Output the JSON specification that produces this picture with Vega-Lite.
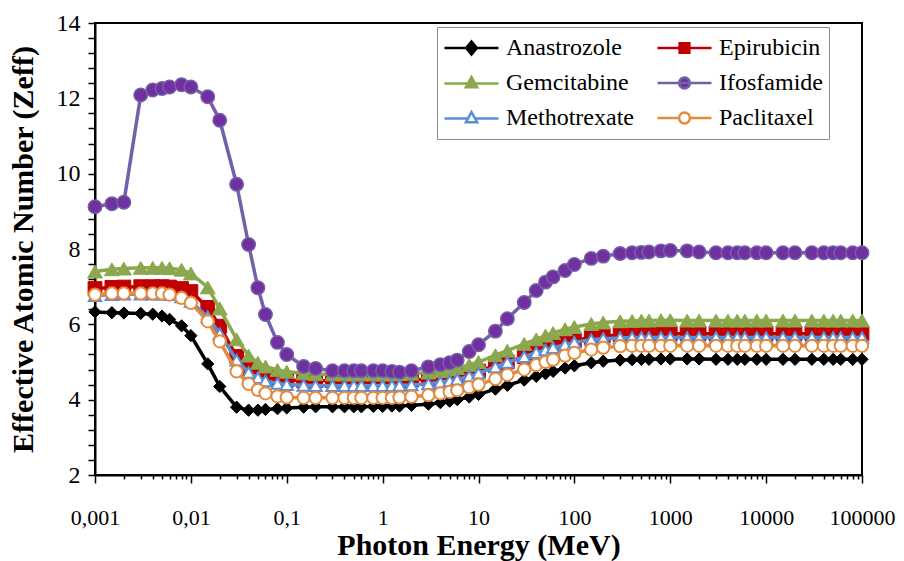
{
  "$schema": "https://vega.github.io/schema/vega-lite/v6.json",
  "autosize": {"type": "none"},
  "padding": {"left": 95, "top": 23, "right": 42, "bottom": 86},
  "width": 767,
  "height": 452,
  "background": "white",
  "data": {"values": [
    {"drug":"Anastrozole","E":0.001,"Z":6.33},{"drug":"Anastrozole","E":0.0015,"Z":6.31},{"drug":"Anastrozole","E":0.002,"Z":6.30},{"drug":"Anastrozole","E":0.003,"Z":6.29},{"drug":"Anastrozole","E":0.004,"Z":6.27},{"drug":"Anastrozole","E":0.005,"Z":6.22},{"drug":"Anastrozole","E":0.006,"Z":6.13},{"drug":"Anastrozole","E":0.008,"Z":5.96},{"drug":"Anastrozole","E":0.01,"Z":5.70},{"drug":"Anastrozole","E":0.015,"Z":4.95},
    {"drug":"Anastrozole","E":0.02,"Z":4.35},{"drug":"Anastrozole","E":0.03,"Z":3.80},{"drug":"Anastrozole","E":0.04,"Z":3.72},{"drug":"Anastrozole","E":0.05,"Z":3.72},{"drug":"Anastrozole","E":0.06,"Z":3.74},{"drug":"Anastrozole","E":0.08,"Z":3.76},{"drug":"Anastrozole","E":0.1,"Z":3.78},{"drug":"Anastrozole","E":0.15,"Z":3.80},{"drug":"Anastrozole","E":0.2,"Z":3.81},{"drug":"Anastrozole","E":0.3,"Z":3.81},
    {"drug":"Anastrozole","E":0.4,"Z":3.81},{"drug":"Anastrozole","E":0.5,"Z":3.81},{"drug":"Anastrozole","E":0.6,"Z":3.81},{"drug":"Anastrozole","E":0.8,"Z":3.82},{"drug":"Anastrozole","E":1,"Z":3.82},{"drug":"Anastrozole","E":1.25,"Z":3.83},{"drug":"Anastrozole","E":1.5,"Z":3.83},{"drug":"Anastrozole","E":2,"Z":3.85},{"drug":"Anastrozole","E":3,"Z":3.88},{"drug":"Anastrozole","E":4,"Z":3.92},
    {"drug":"Anastrozole","E":5,"Z":3.96},{"drug":"Anastrozole","E":6,"Z":4.00},{"drug":"Anastrozole","E":8,"Z":4.07},{"drug":"Anastrozole","E":10,"Z":4.14},{"drug":"Anastrozole","E":15,"Z":4.28},{"drug":"Anastrozole","E":20,"Z":4.38},{"drug":"Anastrozole","E":30,"Z":4.52},{"drug":"Anastrozole","E":40,"Z":4.62},{"drug":"Anastrozole","E":50,"Z":4.69},{"drug":"Anastrozole","E":60,"Z":4.75},
    {"drug":"Anastrozole","E":80,"Z":4.84},{"drug":"Anastrozole","E":100,"Z":4.90},{"drug":"Anastrozole","E":150,"Z":4.98},{"drug":"Anastrozole","E":200,"Z":5.02},{"drug":"Anastrozole","E":300,"Z":5.05},{"drug":"Anastrozole","E":400,"Z":5.06},{"drug":"Anastrozole","E":500,"Z":5.07},{"drug":"Anastrozole","E":600,"Z":5.07},{"drug":"Anastrozole","E":800,"Z":5.08},{"drug":"Anastrozole","E":1000,"Z":5.08},
    {"drug":"Anastrozole","E":1500,"Z":5.08},{"drug":"Anastrozole","E":2000,"Z":5.08},{"drug":"Anastrozole","E":3000,"Z":5.07},{"drug":"Anastrozole","E":4000,"Z":5.07},{"drug":"Anastrozole","E":5000,"Z":5.07},{"drug":"Anastrozole","E":6000,"Z":5.07},{"drug":"Anastrozole","E":8000,"Z":5.07},{"drug":"Anastrozole","E":10000,"Z":5.07},{"drug":"Anastrozole","E":15000,"Z":5.07},{"drug":"Anastrozole","E":20000,"Z":5.07},
    {"drug":"Anastrozole","E":30000,"Z":5.07},{"drug":"Anastrozole","E":40000,"Z":5.07},{"drug":"Anastrozole","E":50000,"Z":5.07},{"drug":"Anastrozole","E":60000,"Z":5.07},{"drug":"Anastrozole","E":80000,"Z":5.07},{"drug":"Anastrozole","E":100000,"Z":5.07},

    {"drug":"Epirubicin","E":0.001,"Z":6.95},{"drug":"Epirubicin","E":0.0015,"Z":6.98},{"drug":"Epirubicin","E":0.002,"Z":6.99},{"drug":"Epirubicin","E":0.003,"Z":7.00},{"drug":"Epirubicin","E":0.004,"Z":7.00},{"drug":"Epirubicin","E":0.005,"Z":7.00},{"drug":"Epirubicin","E":0.006,"Z":6.99},{"drug":"Epirubicin","E":0.008,"Z":6.95},{"drug":"Epirubicin","E":0.01,"Z":6.87},{"drug":"Epirubicin","E":0.015,"Z":6.45},
    {"drug":"Epirubicin","E":0.02,"Z":5.95},{"drug":"Epirubicin","E":0.03,"Z":5.15},{"drug":"Epirubicin","E":0.04,"Z":4.82},{"drug":"Epirubicin","E":0.05,"Z":4.68},{"drug":"Epirubicin","E":0.06,"Z":4.61},{"drug":"Epirubicin","E":0.08,"Z":4.55},{"drug":"Epirubicin","E":0.1,"Z":4.52},{"drug":"Epirubicin","E":0.15,"Z":4.50},{"drug":"Epirubicin","E":0.2,"Z":4.50},{"drug":"Epirubicin","E":0.3,"Z":4.50},
    {"drug":"Epirubicin","E":0.4,"Z":4.50},{"drug":"Epirubicin","E":0.5,"Z":4.50},{"drug":"Epirubicin","E":0.6,"Z":4.50},{"drug":"Epirubicin","E":0.8,"Z":4.50},{"drug":"Epirubicin","E":1,"Z":4.50},{"drug":"Epirubicin","E":1.25,"Z":4.50},{"drug":"Epirubicin","E":1.5,"Z":4.51},{"drug":"Epirubicin","E":2,"Z":4.52},{"drug":"Epirubicin","E":3,"Z":4.55},{"drug":"Epirubicin","E":4,"Z":4.58},
    {"drug":"Epirubicin","E":5,"Z":4.61},{"drug":"Epirubicin","E":6,"Z":4.64},{"drug":"Epirubicin","E":8,"Z":4.70},{"drug":"Epirubicin","E":10,"Z":4.76},{"drug":"Epirubicin","E":15,"Z":4.90},{"drug":"Epirubicin","E":20,"Z":5.00},{"drug":"Epirubicin","E":30,"Z":5.14},{"drug":"Epirubicin","E":40,"Z":5.26},{"drug":"Epirubicin","E":50,"Z":5.34},{"drug":"Epirubicin","E":60,"Z":5.41},
    {"drug":"Epirubicin","E":80,"Z":5.50},{"drug":"Epirubicin","E":100,"Z":5.57},{"drug":"Epirubicin","E":150,"Z":5.65},{"drug":"Epirubicin","E":200,"Z":5.69},{"drug":"Epirubicin","E":300,"Z":5.72},{"drug":"Epirubicin","E":400,"Z":5.73},{"drug":"Epirubicin","E":500,"Z":5.74},{"drug":"Epirubicin","E":600,"Z":5.74},{"drug":"Epirubicin","E":800,"Z":5.75},{"drug":"Epirubicin","E":1000,"Z":5.75},
    {"drug":"Epirubicin","E":1500,"Z":5.75},{"drug":"Epirubicin","E":2000,"Z":5.75},{"drug":"Epirubicin","E":3000,"Z":5.75},{"drug":"Epirubicin","E":4000,"Z":5.75},{"drug":"Epirubicin","E":5000,"Z":5.75},{"drug":"Epirubicin","E":6000,"Z":5.75},{"drug":"Epirubicin","E":8000,"Z":5.75},{"drug":"Epirubicin","E":10000,"Z":5.75},{"drug":"Epirubicin","E":15000,"Z":5.75},{"drug":"Epirubicin","E":20000,"Z":5.75},
    {"drug":"Epirubicin","E":30000,"Z":5.75},{"drug":"Epirubicin","E":40000,"Z":5.75},{"drug":"Epirubicin","E":50000,"Z":5.75},{"drug":"Epirubicin","E":60000,"Z":5.75},{"drug":"Epirubicin","E":80000,"Z":5.75},{"drug":"Epirubicin","E":100000,"Z":5.75},

    {"drug":"Gemcitabine","E":0.001,"Z":7.40},{"drug":"Gemcitabine","E":0.0015,"Z":7.46},{"drug":"Gemcitabine","E":0.002,"Z":7.48},{"drug":"Gemcitabine","E":0.003,"Z":7.50},{"drug":"Gemcitabine","E":0.004,"Z":7.50},{"drug":"Gemcitabine","E":0.005,"Z":7.50},{"drug":"Gemcitabine","E":0.006,"Z":7.49},{"drug":"Gemcitabine","E":0.008,"Z":7.45},{"drug":"Gemcitabine","E":0.01,"Z":7.35},{"drug":"Gemcitabine","E":0.015,"Z":6.98},
    {"drug":"Gemcitabine","E":0.02,"Z":6.42},{"drug":"Gemcitabine","E":0.03,"Z":5.60},{"drug":"Gemcitabine","E":0.04,"Z":5.17},{"drug":"Gemcitabine","E":0.05,"Z":4.98},{"drug":"Gemcitabine","E":0.06,"Z":4.88},{"drug":"Gemcitabine","E":0.08,"Z":4.79},{"drug":"Gemcitabine","E":0.1,"Z":4.74},{"drug":"Gemcitabine","E":0.15,"Z":4.70},{"drug":"Gemcitabine","E":0.2,"Z":4.68},{"drug":"Gemcitabine","E":0.3,"Z":4.67},
    {"drug":"Gemcitabine","E":0.4,"Z":4.67},{"drug":"Gemcitabine","E":0.5,"Z":4.67},{"drug":"Gemcitabine","E":0.6,"Z":4.67},{"drug":"Gemcitabine","E":0.8,"Z":4.67},{"drug":"Gemcitabine","E":1,"Z":4.67},{"drug":"Gemcitabine","E":1.25,"Z":4.67},{"drug":"Gemcitabine","E":1.5,"Z":4.68},{"drug":"Gemcitabine","E":2,"Z":4.69},{"drug":"Gemcitabine","E":3,"Z":4.72},{"drug":"Gemcitabine","E":4,"Z":4.76},
    {"drug":"Gemcitabine","E":5,"Z":4.80},{"drug":"Gemcitabine","E":6,"Z":4.84},{"drug":"Gemcitabine","E":8,"Z":4.92},{"drug":"Gemcitabine","E":10,"Z":5.00},{"drug":"Gemcitabine","E":15,"Z":5.18},{"drug":"Gemcitabine","E":20,"Z":5.30},{"drug":"Gemcitabine","E":30,"Z":5.48},{"drug":"Gemcitabine","E":40,"Z":5.60},{"drug":"Gemcitabine","E":50,"Z":5.70},{"drug":"Gemcitabine","E":60,"Z":5.77},
    {"drug":"Gemcitabine","E":80,"Z":5.87},{"drug":"Gemcitabine","E":100,"Z":5.93},{"drug":"Gemcitabine","E":150,"Z":6.01},{"drug":"Gemcitabine","E":200,"Z":6.05},{"drug":"Gemcitabine","E":300,"Z":6.08},{"drug":"Gemcitabine","E":400,"Z":6.09},{"drug":"Gemcitabine","E":500,"Z":6.10},{"drug":"Gemcitabine","E":600,"Z":6.10},{"drug":"Gemcitabine","E":800,"Z":6.11},{"drug":"Gemcitabine","E":1000,"Z":6.11},
    {"drug":"Gemcitabine","E":1500,"Z":6.10},{"drug":"Gemcitabine","E":2000,"Z":6.10},{"drug":"Gemcitabine","E":3000,"Z":6.10},{"drug":"Gemcitabine","E":4000,"Z":6.10},{"drug":"Gemcitabine","E":5000,"Z":6.10},{"drug":"Gemcitabine","E":6000,"Z":6.10},{"drug":"Gemcitabine","E":8000,"Z":6.10},{"drug":"Gemcitabine","E":10000,"Z":6.10},{"drug":"Gemcitabine","E":15000,"Z":6.10},{"drug":"Gemcitabine","E":20000,"Z":6.10},
    {"drug":"Gemcitabine","E":30000,"Z":6.10},{"drug":"Gemcitabine","E":40000,"Z":6.10},{"drug":"Gemcitabine","E":50000,"Z":6.10},{"drug":"Gemcitabine","E":60000,"Z":6.10},{"drug":"Gemcitabine","E":80000,"Z":6.10},{"drug":"Gemcitabine","E":100000,"Z":6.10},

    {"drug":"Ifosfamide","E":0.001,"Z":9.12},{"drug":"Ifosfamide","E":0.0015,"Z":9.20},{"drug":"Ifosfamide","E":0.002,"Z":9.24},{"drug":"Ifosfamide","E":0.003,"Z":12.09},{"drug":"Ifosfamide","E":0.004,"Z":12.22},{"drug":"Ifosfamide","E":0.005,"Z":12.26},{"drug":"Ifosfamide","E":0.006,"Z":12.30},{"drug":"Ifosfamide","E":0.008,"Z":12.36},{"drug":"Ifosfamide","E":0.01,"Z":12.30},{"drug":"Ifosfamide","E":0.015,"Z":12.04},
    {"drug":"Ifosfamide","E":0.02,"Z":11.42},{"drug":"Ifosfamide","E":0.03,"Z":9.72},{"drug":"Ifosfamide","E":0.04,"Z":8.12},{"drug":"Ifosfamide","E":0.05,"Z":6.97},{"drug":"Ifosfamide","E":0.06,"Z":6.26},{"drug":"Ifosfamide","E":0.08,"Z":5.52},{"drug":"Ifosfamide","E":0.1,"Z":5.20},{"drug":"Ifosfamide","E":0.15,"Z":4.88},{"drug":"Ifosfamide","E":0.2,"Z":4.83},{"drug":"Ifosfamide","E":0.3,"Z":4.77},
    {"drug":"Ifosfamide","E":0.4,"Z":4.77},{"drug":"Ifosfamide","E":0.5,"Z":4.77},{"drug":"Ifosfamide","E":0.6,"Z":4.77},{"drug":"Ifosfamide","E":0.8,"Z":4.77},{"drug":"Ifosfamide","E":1,"Z":4.77},{"drug":"Ifosfamide","E":1.25,"Z":4.75},{"drug":"Ifosfamide","E":1.5,"Z":4.73},{"drug":"Ifosfamide","E":2,"Z":4.77},{"drug":"Ifosfamide","E":3,"Z":4.87},{"drug":"Ifosfamide","E":4,"Z":4.93},
    {"drug":"Ifosfamide","E":5,"Z":4.98},{"drug":"Ifosfamide","E":6,"Z":5.05},{"drug":"Ifosfamide","E":8,"Z":5.28},{"drug":"Ifosfamide","E":10,"Z":5.46},{"drug":"Ifosfamide","E":15,"Z":5.82},{"drug":"Ifosfamide","E":20,"Z":6.15},{"drug":"Ifosfamide","E":30,"Z":6.58},{"drug":"Ifosfamide","E":40,"Z":6.90},{"drug":"Ifosfamide","E":50,"Z":7.12},{"drug":"Ifosfamide","E":60,"Z":7.26},
    {"drug":"Ifosfamide","E":80,"Z":7.43},{"drug":"Ifosfamide","E":100,"Z":7.59},{"drug":"Ifosfamide","E":150,"Z":7.75},{"drug":"Ifosfamide","E":200,"Z":7.81},{"drug":"Ifosfamide","E":300,"Z":7.88},{"drug":"Ifosfamide","E":400,"Z":7.90},{"drug":"Ifosfamide","E":500,"Z":7.91},{"drug":"Ifosfamide","E":600,"Z":7.92},{"drug":"Ifosfamide","E":800,"Z":7.95},{"drug":"Ifosfamide","E":1000,"Z":7.96},
    {"drug":"Ifosfamide","E":1500,"Z":7.95},{"drug":"Ifosfamide","E":2000,"Z":7.92},{"drug":"Ifosfamide","E":3000,"Z":7.90},{"drug":"Ifosfamide","E":4000,"Z":7.90},{"drug":"Ifosfamide","E":5000,"Z":7.90},{"drug":"Ifosfamide","E":6000,"Z":7.90},{"drug":"Ifosfamide","E":8000,"Z":7.90},{"drug":"Ifosfamide","E":10000,"Z":7.90},{"drug":"Ifosfamide","E":15000,"Z":7.90},{"drug":"Ifosfamide","E":20000,"Z":7.90},
    {"drug":"Ifosfamide","E":30000,"Z":7.90},{"drug":"Ifosfamide","E":40000,"Z":7.90},{"drug":"Ifosfamide","E":50000,"Z":7.90},{"drug":"Ifosfamide","E":60000,"Z":7.90},{"drug":"Ifosfamide","E":80000,"Z":7.90},{"drug":"Ifosfamide","E":100000,"Z":7.90},

    {"drug":"Methotrexate","E":0.001,"Z":6.76},{"drug":"Methotrexate","E":0.0015,"Z":6.79},{"drug":"Methotrexate","E":0.002,"Z":6.80},{"drug":"Methotrexate","E":0.003,"Z":6.80},{"drug":"Methotrexate","E":0.004,"Z":6.80},{"drug":"Methotrexate","E":0.005,"Z":6.80},{"drug":"Methotrexate","E":0.006,"Z":6.79},{"drug":"Methotrexate","E":0.008,"Z":6.73},{"drug":"Methotrexate","E":0.01,"Z":6.60},{"drug":"Methotrexate","E":0.015,"Z":6.20},
    {"drug":"Methotrexate","E":0.02,"Z":5.75},{"drug":"Methotrexate","E":0.03,"Z":5.05},{"drug":"Methotrexate","E":0.04,"Z":4.72},{"drug":"Methotrexate","E":0.05,"Z":4.58},{"drug":"Methotrexate","E":0.06,"Z":4.50},{"drug":"Methotrexate","E":0.08,"Z":4.43},{"drug":"Methotrexate","E":0.1,"Z":4.40},{"drug":"Methotrexate","E":0.15,"Z":4.38},{"drug":"Methotrexate","E":0.2,"Z":4.37},{"drug":"Methotrexate","E":0.3,"Z":4.37},
    {"drug":"Methotrexate","E":0.4,"Z":4.37},{"drug":"Methotrexate","E":0.5,"Z":4.37},{"drug":"Methotrexate","E":0.6,"Z":4.37},{"drug":"Methotrexate","E":0.8,"Z":4.37},{"drug":"Methotrexate","E":1,"Z":4.37},{"drug":"Methotrexate","E":1.25,"Z":4.37},{"drug":"Methotrexate","E":1.5,"Z":4.38},{"drug":"Methotrexate","E":2,"Z":4.39},{"drug":"Methotrexate","E":3,"Z":4.42},{"drug":"Methotrexate","E":4,"Z":4.46},
    {"drug":"Methotrexate","E":5,"Z":4.50},{"drug":"Methotrexate","E":6,"Z":4.54},{"drug":"Methotrexate","E":8,"Z":4.62},{"drug":"Methotrexate","E":10,"Z":4.70},{"drug":"Methotrexate","E":15,"Z":4.87},{"drug":"Methotrexate","E":20,"Z":4.99},{"drug":"Methotrexate","E":30,"Z":5.14},{"drug":"Methotrexate","E":40,"Z":5.25},{"drug":"Methotrexate","E":50,"Z":5.32},{"drug":"Methotrexate","E":60,"Z":5.38},
    {"drug":"Methotrexate","E":80,"Z":5.46},{"drug":"Methotrexate","E":100,"Z":5.52},{"drug":"Methotrexate","E":150,"Z":5.59},{"drug":"Methotrexate","E":200,"Z":5.62},{"drug":"Methotrexate","E":300,"Z":5.64},{"drug":"Methotrexate","E":400,"Z":5.65},{"drug":"Methotrexate","E":500,"Z":5.65},{"drug":"Methotrexate","E":600,"Z":5.65},{"drug":"Methotrexate","E":800,"Z":5.65},{"drug":"Methotrexate","E":1000,"Z":5.65},
    {"drug":"Methotrexate","E":1500,"Z":5.65},{"drug":"Methotrexate","E":2000,"Z":5.65},{"drug":"Methotrexate","E":3000,"Z":5.65},{"drug":"Methotrexate","E":4000,"Z":5.65},{"drug":"Methotrexate","E":5000,"Z":5.65},{"drug":"Methotrexate","E":6000,"Z":5.65},{"drug":"Methotrexate","E":8000,"Z":5.65},{"drug":"Methotrexate","E":10000,"Z":5.65},{"drug":"Methotrexate","E":15000,"Z":5.65},{"drug":"Methotrexate","E":20000,"Z":5.65},
    {"drug":"Methotrexate","E":30000,"Z":5.65},{"drug":"Methotrexate","E":40000,"Z":5.65},{"drug":"Methotrexate","E":50000,"Z":5.65},{"drug":"Methotrexate","E":60000,"Z":5.65},{"drug":"Methotrexate","E":80000,"Z":5.65},{"drug":"Methotrexate","E":100000,"Z":5.65},

    {"drug":"Paclitaxel","E":0.001,"Z":6.79},{"drug":"Paclitaxel","E":0.0015,"Z":6.82},{"drug":"Paclitaxel","E":0.002,"Z":6.82},{"drug":"Paclitaxel","E":0.003,"Z":6.82},{"drug":"Paclitaxel","E":0.004,"Z":6.82},{"drug":"Paclitaxel","E":0.005,"Z":6.82},{"drug":"Paclitaxel","E":0.006,"Z":6.79},{"drug":"Paclitaxel","E":0.008,"Z":6.70},{"drug":"Paclitaxel","E":0.01,"Z":6.57},{"drug":"Paclitaxel","E":0.015,"Z":6.08},
    {"drug":"Paclitaxel","E":0.02,"Z":5.55},{"drug":"Paclitaxel","E":0.03,"Z":4.75},{"drug":"Paclitaxel","E":0.04,"Z":4.42},{"drug":"Paclitaxel","E":0.05,"Z":4.26},{"drug":"Paclitaxel","E":0.06,"Z":4.17},{"drug":"Paclitaxel","E":0.08,"Z":4.09},{"drug":"Paclitaxel","E":0.1,"Z":4.06},{"drug":"Paclitaxel","E":0.15,"Z":4.05},{"drug":"Paclitaxel","E":0.2,"Z":4.05},{"drug":"Paclitaxel","E":0.3,"Z":4.05},
    {"drug":"Paclitaxel","E":0.4,"Z":4.05},{"drug":"Paclitaxel","E":0.5,"Z":4.05},{"drug":"Paclitaxel","E":0.6,"Z":4.05},{"drug":"Paclitaxel","E":0.8,"Z":4.05},{"drug":"Paclitaxel","E":1,"Z":4.05},{"drug":"Paclitaxel","E":1.25,"Z":4.05},{"drug":"Paclitaxel","E":1.5,"Z":4.06},{"drug":"Paclitaxel","E":2,"Z":4.08},{"drug":"Paclitaxel","E":3,"Z":4.12},{"drug":"Paclitaxel","E":4,"Z":4.17},
    {"drug":"Paclitaxel","E":5,"Z":4.21},{"drug":"Paclitaxel","E":6,"Z":4.25},{"drug":"Paclitaxel","E":8,"Z":4.33},{"drug":"Paclitaxel","E":10,"Z":4.40},{"drug":"Paclitaxel","E":15,"Z":4.55},{"drug":"Paclitaxel","E":20,"Z":4.66},{"drug":"Paclitaxel","E":30,"Z":4.80},{"drug":"Paclitaxel","E":40,"Z":4.92},{"drug":"Paclitaxel","E":50,"Z":5.00},{"drug":"Paclitaxel","E":60,"Z":5.06},
    {"drug":"Paclitaxel","E":80,"Z":5.17},{"drug":"Paclitaxel","E":100,"Z":5.24},{"drug":"Paclitaxel","E":150,"Z":5.33},{"drug":"Paclitaxel","E":200,"Z":5.38},{"drug":"Paclitaxel","E":300,"Z":5.42},{"drug":"Paclitaxel","E":400,"Z":5.43},{"drug":"Paclitaxel","E":500,"Z":5.43},{"drug":"Paclitaxel","E":600,"Z":5.43},{"drug":"Paclitaxel","E":800,"Z":5.43},{"drug":"Paclitaxel","E":1000,"Z":5.43},
    {"drug":"Paclitaxel","E":1500,"Z":5.43},{"drug":"Paclitaxel","E":2000,"Z":5.43},{"drug":"Paclitaxel","E":3000,"Z":5.43},{"drug":"Paclitaxel","E":4000,"Z":5.43},{"drug":"Paclitaxel","E":5000,"Z":5.43},{"drug":"Paclitaxel","E":6000,"Z":5.43},{"drug":"Paclitaxel","E":8000,"Z":5.43},{"drug":"Paclitaxel","E":10000,"Z":5.43},{"drug":"Paclitaxel","E":15000,"Z":5.43},{"drug":"Paclitaxel","E":20000,"Z":5.43},
    {"drug":"Paclitaxel","E":30000,"Z":5.43},{"drug":"Paclitaxel","E":40000,"Z":5.43},{"drug":"Paclitaxel","E":50000,"Z":5.43},{"drug":"Paclitaxel","E":60000,"Z":5.43},{"drug":"Paclitaxel","E":80000,"Z":5.43},{"drug":"Paclitaxel","E":100000,"Z":5.43}
  ]},
  "encoding": {
    "x": {"field": "E", "type": "quantitative",
      "scale": {"type": "log", "domain": [0.001, 100000], "nice": false},
      "axis": {
        "values": [0.001,0.002,0.003,0.004,0.005,0.006,0.007,0.008,0.009,0.01,0.02,0.03,0.04,0.05,0.06,0.07,0.08,0.09,0.1,0.2,0.3,0.4,0.5,0.6,0.7,0.8,0.9,1,2,3,4,5,6,7,8,9,10,20,30,40,50,60,70,80,90,100,200,300,400,500,600,700,800,900,1000,2000,3000,4000,5000,6000,7000,8000,9000,10000,20000,30000,40000,50000,60000,70000,80000,90000,100000],
        "labelExpr": "abs(log(datum.value)/LN10 - round(log(datum.value)/LN10)) < 0.0001 ? replace(format(datum.value, '~f'), '.', ',') : ''",
        "tickSize": {"condition": {"test": "abs(log(datum.value)/LN10 - round(log(datum.value)/LN10)) < 0.0001", "value": 8}, "value": 4},
        "labelPadding": 24,
        "labelFontSize": 22,
        "labelFont": "Liberation Serif",
        "labelOverlap": false,
        "labelFlush": false,
        "title": "Photon Energy (MeV)",
        "titlePadding": 2
      }
    },
    "y": {"field": "Z", "type": "quantitative",
      "scale": {"domain": [2, 14], "nice": false, "zero": false},
      "axis": {
        "values": [2,2.4,2.8,3.2,3.6,4,4.4,4.8,5.2,5.6,6,6.4,6.8,7.2,7.6,8,8.4,8.8,9.2,9.6,10,10.4,10.8,11.2,11.6,12,12.4,12.8,13.2,13.6,14],
        "labelExpr": "abs(datum.value/2 - round(datum.value/2)) < 0.001 ? format(datum.value, 'd') : ''",
        "tickSize": 7,
        "labelPadding": 8,
        "labelFontSize": 24,
        "labelFont": "Liberation Serif",
        "labelOverlap": false,
        "labelFlush": false,
        "title": "Effective Atomic Number (Zeff)",
        "titlePadding": 18
      }
    }
  },
  "layer": [
    {"transform": [{"filter": "datum.drug === 'Anastrozole'"}], "mark": {"type": "line", "color": "#000000", "strokeWidth": 3.5}},
    {"transform": [{"filter": "datum.drug === 'Anastrozole'"}], "mark": {"type": "point", "shape": "diamond", "filled": true, "fill": "#000000", "stroke": "#000000", "size": 150, "strokeWidth": 1, "opacity": 1}},
    {"transform": [{"filter": "datum.drug === 'Epirubicin'"}], "mark": {"type": "line", "color": "#C00000", "strokeWidth": 3.5}},
    {"transform": [{"filter": "datum.drug === 'Epirubicin'"}], "mark": {"type": "point", "shape": "square", "filled": true, "fill": "#C00000", "stroke": "#C00000", "size": 190, "strokeWidth": 1, "opacity": 1}},
    {"transform": [{"filter": "datum.drug === 'Gemcitabine'"}], "mark": {"type": "line", "color": "#8CA84D", "strokeWidth": 3.5}},
    {"transform": [{"filter": "datum.drug === 'Gemcitabine'"}], "mark": {"type": "point", "shape": "triangle-up", "filled": true, "fill": "#8CA84D", "stroke": "#8CA84D", "size": 220, "strokeWidth": 1, "opacity": 1}},
    {"transform": [{"filter": "datum.drug === 'Ifosfamide'"}], "mark": {"type": "line", "color": "#7460A8", "strokeWidth": 3.5}},
    {"transform": [{"filter": "datum.drug === 'Ifosfamide'"}], "mark": {"type": "point", "shape": "circle", "filled": true, "fill": "#7030A0", "stroke": "#7460A8", "size": 180, "strokeWidth": 1.5, "opacity": 1}},
    {"transform": [{"filter": "datum.drug === 'Methotrexate'"}], "mark": {"type": "line", "color": "#5B8ED6", "strokeWidth": 3.5}},
    {"transform": [{"filter": "datum.drug === 'Methotrexate'"}], "mark": {"type": "point", "shape": "triangle-up", "filled": true, "fill": "#FFFFFF", "stroke": "#5B8ED6", "size": 150, "strokeWidth": 2, "opacity": 1}},
    {"transform": [{"filter": "datum.drug === 'Paclitaxel'"}], "mark": {"type": "line", "color": "#E58A3B", "strokeWidth": 3.5}},
    {"transform": [{"filter": "datum.drug === 'Paclitaxel'"}], "mark": {"type": "point", "shape": "circle", "filled": true, "fill": "#FFFFFF", "stroke": "#E58A3B", "size": 150, "strokeWidth": 2, "opacity": 1}},
    {"transform": [{"filter": "false"}], "mark": {"type": "point", "filled": true, "opacity": 1},
      "encoding": {
        "shape": {"field": "drug", "type": "nominal",
          "scale": {"domain": ["Anastrozole","Gemcitabine","Methotrexate","Epirubicin","Ifosfamide","Paclitaxel"],
            "range": ["M-1,0H1M0,-0.24L0.2,0L0,0.24L-0.2,0Z","M-1,0.02H1M0,-0.22L0.21,0.16H-0.21Z","M-1,0.02H-0.13M0.13,0.02H1M0,-0.22L0.21,0.16H-0.21Z","M-1,0H1M-0.18,-0.18H0.18V0.18H-0.18Z","M-1,0H1M-0.2,0A0.2,0.2 0 1,0 0.2,0A0.2,0.2 0 1,0 -0.2,0Z","M-1,0H-0.2M0.2,0H1M-0.2,0A0.2,0.2 0 1,0 0.2,0A0.2,0.2 0 1,0 -0.2,0Z"]},
          "legend": {"title": null, "orient": "none", "legendX": 342, "legendY": 4, "columns": 2, "columnPadding": 22, "rowPadding": 5, "padding": 6,
            "strokeColor": "#8c8c8c", "fillColor": "white", "labelFont": "Liberation Serif", "labelFontSize": 24, "labelOffset": 6, "labelLimit": 0, "symbolSize": 2916, "symbolStrokeWidth": 2.5, "clipHeight": 30,
            "labelExpr": "indexof(['Epirubicin','Ifosfamide','Paclitaxel'], datum.label) >= 0 ? datum.label + '\u00a0\u00a0\u00a0\u00a0\u00a0' : datum.label"}},
        "fill": {"field": "drug", "type": "nominal",
          "scale": {"domain": ["Anastrozole","Gemcitabine","Methotrexate","Epirubicin","Ifosfamide","Paclitaxel"], "range": ["#000000","#8CA84D","#FFFFFF","#C00000","#7030A0","#FFFFFF"]},
          "legend": {"title": null}},
        "stroke": {"field": "drug", "type": "nominal",
          "scale": {"domain": ["Anastrozole","Gemcitabine","Methotrexate","Epirubicin","Ifosfamide","Paclitaxel"], "range": ["#000000","#8CA84D","#5B8ED6","#C00000","#7460A8","#E58A3B"]},
          "legend": {"title": null}}
      }}
  ],
  "config": {
    "font": "Liberation Serif",
    "view": {"stroke": "#000000", "strokeWidth": 2},
    "axis": {
      "grid": false,
      "domainColor": "#000000",
      "domainWidth": 2,
      "tickColor": "#000000",
      "tickWidth": 1.5,
      "labelColor": "#000000",
      "labelFont": "Liberation Serif",
      "titleFont": "Liberation Serif",
      "titleColor": "#000000",
      "titleFontSize": 30,
      "titleFontWeight": "bold"
    },
    "legend": {"labelFont": "Liberation Serif", "labelColor": "#000000"}
  }
}
